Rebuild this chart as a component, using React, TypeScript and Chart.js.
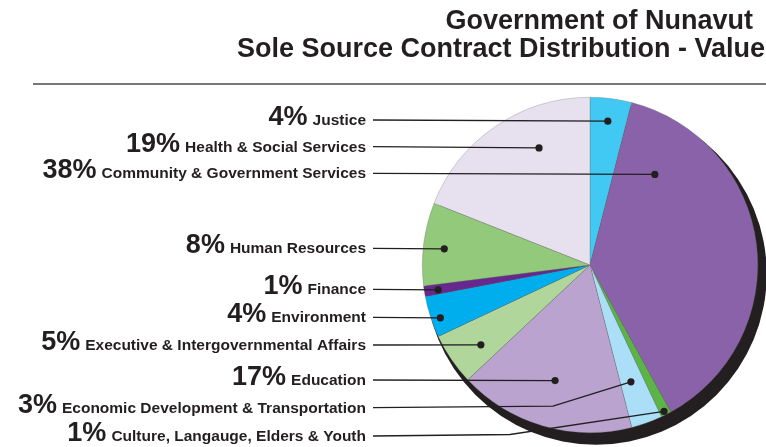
import React, { useEffect, useRef } from "react";
import { Chart, registerables } from "chart.js";

Chart.register(...registerables);

const titleLines = ["Government of Nunavut", "Sole Source Contract Distribution - Value"];

const departments = [
  "Justice",
  "Community & Government Services",
  "Culture, Langauge, Elders & Youth",
  "Economic Development & Transportation",
  "Education",
  "Executive & Intergovernmental Affairs",
  "Environment",
  "Finance",
  "Human Resources",
  "Health & Social Services",
];

const shares = [4, 38, 1, 3, 17, 5, 4, 1, 8, 19];

const sliceColors = [
  "#41c8f3",
  "#8a62a9",
  "#5bb446",
  "#aadff7",
  "#baa3ce",
  "#b0d69b",
  "#00aeee",
  "#66288e",
  "#93c97a",
  "#e6e0ef",
];

// annotation layout: label line y, dot position within slice (angle fraction, radius fraction), bend x
const labelLineY = [120, 173.3, 436, 407.7, 380, 345, 317.3, 289.3, 248.3, 146.7];
const dotAngleFrac = [0.49, 0.155, 0.55, 0.546, 0.51, 0.39, 0.4, 0.42, 0.47, 0.656];
const dotRadiusFrac = [0.864, 0.664, 0.978, 0.738, 0.72, 0.806, 0.946, 0.917, 0.874, 0.761];
const bendX: (number | null)[] = [null, null, 510, 553, null, null, null, null, null, null];

const FONT = '"Liberation Sans", Arial, sans-serif';

const shadowPlugin = {
  id: "pieShadow",
  beforeDatasetsDraw(chart: any) {
    const meta = chart.getDatasetMeta(0);
    const arc = meta.data[0];
    if (!arc) return;
    const { x, y, outerRadius } = arc.getProps(["x", "y", "outerRadius"], true);
    const ctx = chart.ctx;
    ctx.save();
    ctx.fillStyle = "#231f20";
    ctx.beginPath();
    ctx.arc(x + 6, y + 9, outerRadius + 3, 0, Math.PI * 2);
    ctx.fill();
    ctx.restore();
  },
};

const annotationPlugin = {
  id: "annotations",
  afterDatasetsDraw(chart: any) {
    const ctx = chart.ctx;
    const meta = chart.getDatasetMeta(0);
    const textRight = 366;
    const lineStart = 373;
    ctx.save();
    meta.data.forEach((arc: any, i: number) => {
      const { x, y, outerRadius, startAngle, endAngle } = arc.getProps(
        ["x", "y", "outerRadius", "startAngle", "endAngle"],
        true
      );
      const a = startAngle + dotAngleFrac[i] * (endAngle - startAngle);
      const r = outerRadius * dotRadiusFrac[i];
      const dx = x + r * Math.cos(a);
      const dy = y + r * Math.sin(a);
      const ly = labelLineY[i];

      ctx.strokeStyle = "#231f20";
      ctx.lineWidth = 1.3;
      ctx.beginPath();
      ctx.moveTo(lineStart, ly);
      const bx = bendX[i];
      if (bx !== null) {
        ctx.lineTo(bx, ly - 1.5);
      }
      ctx.lineTo(dx, dy);
      ctx.stroke();

      ctx.fillStyle = "#231f20";
      ctx.beginPath();
      ctx.arc(dx, dy, 3.6, 0, Math.PI * 2);
      ctx.fill();

      ctx.textAlign = "right";
      ctx.textBaseline = "alphabetic";
      ctx.font = `bold 15.5px ${FONT}`;
      ctx.fillText(departments[i], textRight, ly + 5);
      const w = ctx.measureText(departments[i]).width;
      ctx.font = `bold 27px ${FONT}`;
      ctx.fillText(`${shares[i]}%`, textRight - w - 5, ly + 5);
    });
    ctx.restore();
  },
  afterDraw(chart: any) {
    const ctx = chart.ctx;
    ctx.save();
    ctx.fillStyle = "#231f20";
    ctx.textAlign = "right";
    ctx.textBaseline = "alphabetic";
    ctx.font = `bold 27px ${FONT}`;
    ctx.fillText(titleLines[0], 753, 29);
    ctx.fillText(titleLines[1], 765, 57);
    ctx.strokeStyle = "#4a4a4a";
    ctx.lineWidth = 1.6;
    ctx.beginPath();
    ctx.moveTo(33, 84);
    ctx.lineTo(766, 84);
    ctx.stroke();
    ctx.restore();
  },
};

export default function App() {
  const ref = useRef<HTMLCanvasElement>(null);
  useEffect(() => {
    if (!ref.current) return;
    const chart = new Chart(ref.current, {
      type: "pie",
      data: {
        labels: departments,
        datasets: [
          {
            data: shares,
            backgroundColor: sliceColors,
            borderWidth: 0.5,
            borderColor: "rgba(110,110,110,0.6)",
          },
        ],
      },
      options: {
        responsive: false,
        animation: false,
        devicePixelRatio: 1,
        layout: { padding: { left: 422, right: 8, top: 97, bottom: 14 } },
        plugins: {
          legend: { display: false },
          tooltip: { enabled: false },
          title: { display: false },
        },
      },
      plugins: [shadowPlugin, annotationPlugin],
    });
    return () => chart.destroy();
  }, []);
  return (
    <div style={{ position: "fixed", left: 0, top: 0, width: 766, height: 447, background: "#fff" }}>
      <canvas ref={ref} width={766} height={447} style={{ width: 766, height: 447 }} />
    </div>
  );
}
